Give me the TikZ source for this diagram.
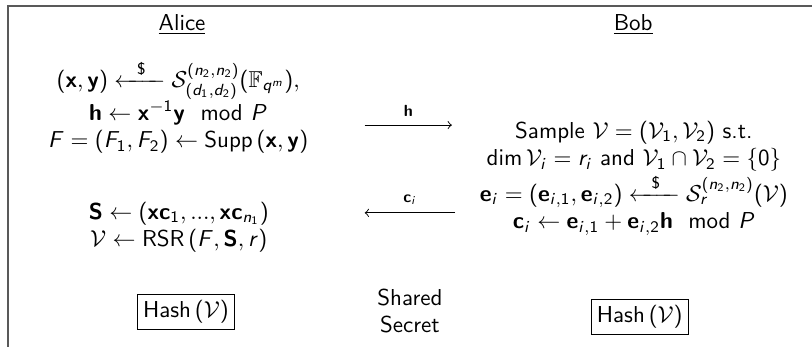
\documentclass[tikz,border=0pt]{standalone}
\usepackage{amsmath, amssymb}
\usepackage{tikz}
\usetikzlibrary{positioning}

% Toan chu khong chan (sans)
\DeclareSymbolFont{operators}{OT1}{cmss}{m}{n}
\SetSymbolFont{operators}{bold}{OT1}{cmss}{bx}{n}
\DeclareSymbolFont{sfletters}{OT1}{cmss}{m}{sl}
\DeclareMathAlphabet{\mathbf}{OT1}{cmss}{bx}{n}
\DeclareMathAlphabet{\mathrm}{OT1}{cmss}{m}{n}
\newcount\lettercnt
\lettercnt=`A
\loop
  \mathcode\lettercnt=\numexpr "7000+\symsfletters*"100+\lettercnt\relax
  \advance\lettercnt 1
\ifnum\lettercnt<`[ \repeat
\lettercnt=`a
\loop
  \mathcode\lettercnt=\numexpr "7000+\symsfletters*"100+\lettercnt\relax
  \advance\lettercnt 1
\ifnum\lettercnt<`\{ \repeat
\newcommand{\sampleto}{\xleftarrow{\hphantom{m}\$\hphantom{m}}}

\begin{document}
\begin{tikzpicture}[>=to, font=\sffamily,
    frame/.style={draw=black!65, line width=0.8pt},
    block/.style={align=center},
    hashbox/.style={draw, thin, inner sep=2.5pt}]
    \useasboundingbox (0,0) rectangle (12.4,-5.30);
    % Khung
    \draw[frame] (12.4,-0.092) -- (0.122,-0.092) -- (0.122,-5.30);

    % Hai ben
    \node (alice) at (2.78,-0.38) {\underline{Alice}};
    \node (bob) at (9.67,-0.38) {\underline{Bob}};

    % Phia Alice
    \node[block] (keygen) at (2.72,-1.63)
        {$(\mathbf{x},\mathbf{y}) \sampleto \mathcal{S}^{(n_2,n_2)}_{(d_1,d_2)}(\mathbb{F}_{q^m}),$\\
         $\mathbf{h} \leftarrow \mathbf{x}^{-1}\mathbf{y} \mod P$\\
         $F = (F_1,F_2) \leftarrow \mathrm{Supp}\,(\mathbf{x},\mathbf{y})$};
    \node[block] (decap) at (2.73,-3.47)
        {$\mathbf{S} \leftarrow (\mathbf{x}\mathbf{c}_1, ..., \mathbf{x}\mathbf{c}_{n_1})$\\
         $\mathcal{V} \leftarrow \mathrm{RSR}\,(F,\mathbf{S},r)$};

    % Phia Bob
    \node[block] (encap) at (9.68,-2.72)
        {Sample $\mathcal{V} = (\mathcal{V}_1,\mathcal{V}_2)$ s.t.\\
         $\dim \mathcal{V}_i = r_i$ and $\mathcal{V}_1 \cap \mathcal{V}_2 = \{0\}$\\
         $\mathbf{e}_i = (\mathbf{e}_{i,1},\mathbf{e}_{i,2}) \sampleto \mathcal{S}^{(n_2,n_2)}_{r}(\mathcal{V})$\\
         $\mathbf{c}_i \leftarrow \mathbf{e}_{i,1} + \mathbf{e}_{i,2}\mathbf{h} \mod P$};

    % Trao doi
    \coordinate (hs) at (5.57,-1.91);
    \coordinate (he) at (6.90,-1.91);
    \coordinate (cs) at (6.95,-3.25);
    \coordinate (ce) at (5.57,-3.25);
    \draw[->] (hs) -- node[above] {$\scriptstyle\mathbf{h}$} (he);
    \draw[->] (cs) -- node[above] {$\scriptstyle\mathbf{c}_i$} (ce);

    % Khoa chung
    \node[hashbox] (hashA) at (2.84,-4.76) {Hash\,$(\mathcal{V})$};
    \node[hashbox] (hashB) at (9.77,-4.84) {Hash\,$(\mathcal{V})$};
    \node[block] (secret) at (6.26,-4.75) {Shared\\Secret};

\end{tikzpicture}
\end{document}
